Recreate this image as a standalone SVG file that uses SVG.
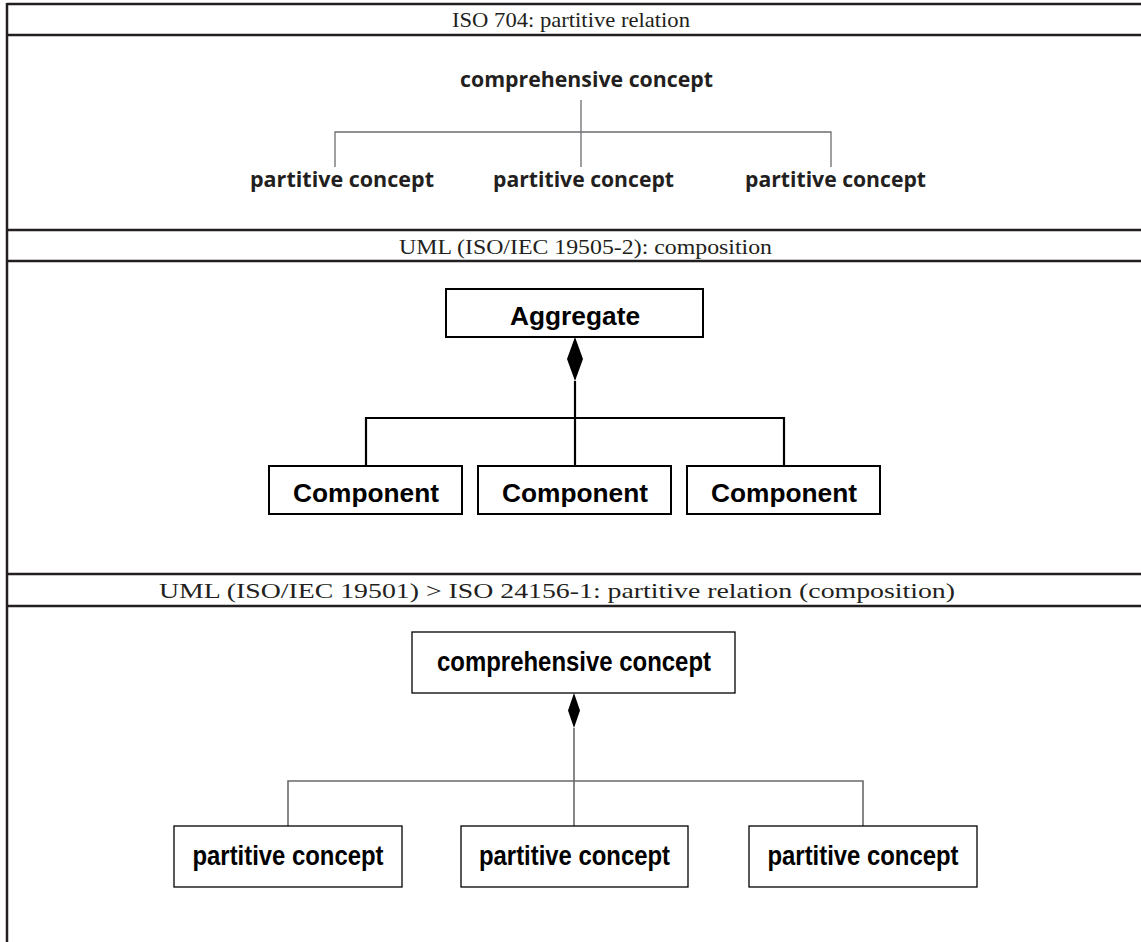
<svg xmlns="http://www.w3.org/2000/svg" width="1141" height="942" viewBox="0 0 1141 942">
<style>
.frame{stroke:#231f20;stroke-width:2.5;fill:none}
.title{font-family:"Liberation Serif","DejaVu Serif",serif;font-size:21px;fill:#231f20;text-anchor:middle}
.t1{font-family:"Open Sans","Noto Sans",sans-serif;font-weight:bold;font-size:21px;fill:#231f20;text-anchor:middle}
.t2{font-family:"Liberation Sans",Arial,sans-serif;font-weight:bold;font-size:26px;fill:#000;text-anchor:middle}
.t3{font-family:"Liberation Sans",Arial,sans-serif;font-weight:bold;font-size:28px;fill:#000;text-anchor:middle}
.l1{stroke:#6d6e71;stroke-width:1.3;fill:none}
.l2{stroke:#000;stroke-width:2.2;fill:none}
.l3{stroke:#6a6a6a;stroke-width:1.6;fill:none}
.b2{fill:#fff;stroke:#000;stroke-width:2}
.b3{fill:#fff;stroke:#000;stroke-width:1.3}
</style>
<rect width="1141" height="942" fill="#fff"/>
<g id="table">
<line class="frame" x1="7" y1="4" x2="1141" y2="4"/>
<line class="frame" x1="7" y1="35" x2="1141" y2="35"/>
<line class="frame" x1="7" y1="230" x2="1141" y2="230"/>
<line class="frame" x1="7" y1="261" x2="1141" y2="261"/>
<line class="frame" x1="7" y1="574" x2="1141" y2="574"/>
<line class="frame" x1="7" y1="606" x2="1141" y2="606"/>
<line class="frame" x1="7" y1="3" x2="7" y2="942"/>
<text class="title" x="571" y="27" textLength="238" lengthAdjust="spacingAndGlyphs">ISO 704: partitive relation</text>
<text class="title" x="585.5" y="254" textLength="373" lengthAdjust="spacingAndGlyphs">UML (ISO/IEC 19505-2): composition</text>
<text class="title" x="557" y="598" textLength="796" lengthAdjust="spacingAndGlyphs">UML (ISO/IEC 19501) &gt; ISO 24156-1: partitive relation (composition)</text>
</g>
<g id="connectors">
<path class="l1" d="M581 100V167M335 167V132H831V167"/>
<path class="l2" d="M575 381V466M366 466V418H784V466"/>
<path d="M575 337L583 359L575 381L567 359Z" fill="#000"/>
<path class="l3" d="M574 728V826M288 826V781H863V826"/>
<path d="M574 693L580 710.5L574 728L568 710.5Z" fill="#000"/>
</g>
<g id="s1-comprehensive"><text class="t1" x="586.5" y="87" textLength="253" lengthAdjust="spacingAndGlyphs">comprehensive concept</text></g>
<g id="s1-partitive-1"><text class="t1" x="342" y="187" textLength="184" lengthAdjust="spacingAndGlyphs">partitive concept</text></g>
<g id="s1-partitive-2"><text class="t1" x="583.5" y="187" textLength="181" lengthAdjust="spacingAndGlyphs">partitive concept</text></g>
<g id="s1-partitive-3"><text class="t1" x="835.5" y="187" textLength="181" lengthAdjust="spacingAndGlyphs">partitive concept</text></g>
<g id="s2-aggregate"><rect class="b2" x="446" y="289" width="257" height="48"/><text class="t2" x="575" y="325" textLength="130" lengthAdjust="spacingAndGlyphs">Aggregate</text></g>
<g id="s2-component-1"><rect class="b2" x="269" y="466" width="193" height="48"/><text class="t2" x="366" y="502" textLength="146" lengthAdjust="spacingAndGlyphs">Component</text></g>
<g id="s2-component-2"><rect class="b2" x="478" y="466" width="193" height="48"/><text class="t2" x="575" y="502" textLength="146" lengthAdjust="spacingAndGlyphs">Component</text></g>
<g id="s2-component-3"><rect class="b2" x="687" y="466" width="193" height="48"/><text class="t2" x="784" y="502" textLength="146" lengthAdjust="spacingAndGlyphs">Component</text></g>
<g id="s3-comprehensive"><rect class="b3" x="412" y="632" width="323" height="61"/><text class="t3" x="574" y="671" textLength="274" lengthAdjust="spacingAndGlyphs">comprehensive concept</text></g>
<g id="s3-partitive-1"><rect class="b3" x="174" y="826" width="228" height="61"/><text class="t3" x="288" y="865" textLength="191" lengthAdjust="spacingAndGlyphs">partitive concept</text></g>
<g id="s3-partitive-2"><rect class="b3" x="461" y="826" width="227" height="61"/><text class="t3" x="574.5" y="865" textLength="191" lengthAdjust="spacingAndGlyphs">partitive concept</text></g>
<g id="s3-partitive-3"><rect class="b3" x="749" y="826" width="228" height="61"/><text class="t3" x="863" y="865" textLength="191" lengthAdjust="spacingAndGlyphs">partitive concept</text></g>
</svg>
